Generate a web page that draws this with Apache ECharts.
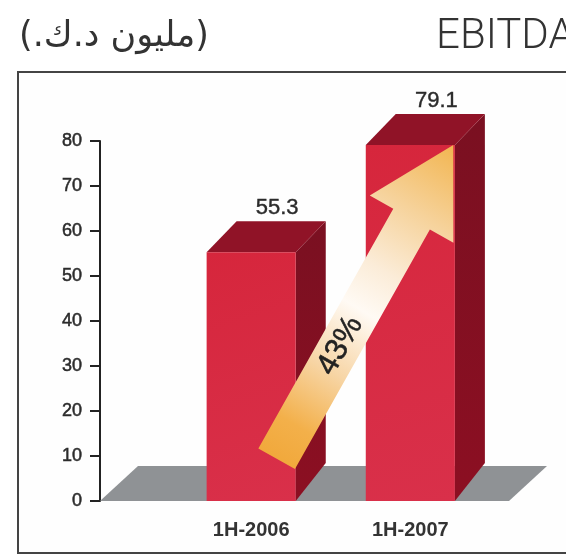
<!DOCTYPE html>
<html lang="en">
<head>
<meta charset="UTF-8">
<title>EBITDA</title>
<style>
html,body{margin:0;padding:0;background:#fff}
#chart{width:566px;height:554px}
</style>
</head>
<body>
<div id="chart"></div>
<script src="https://cdn.jsdelivr.net/npm/echarts@6/dist/echarts.min.js"></script>
<script>
var categories = ['1H-2006', '1H-2007'];
var barPositions = [1, 2];
var barValues = [55.3, 79.1];
var yTicks = [0, 10, 20, 30, 40, 50, 60, 70, 80];
var floorX = [0.05, 2.62];
// arrow runs from the foot of the first bar to the top of the second
var arrowTail = [1.16, 9.4];
var arrowTip = [2.27, 79.1];
var arrowLabel = '43%';
var titleLeft = 'EBITDA';
// the marks keep the parentheses and dots on the right-to-left side
var titleRight = '\u200F(مليون د.ك.)\u200F';

var myChart = echarts.init(document.getElementById('chart'));

function poly(points, fill) {
  return {type: 'polygon', shape: {points: points}, style: {fill: fill}};
}

// floor parallelogram behind the bars
function renderFloor(params, api) {
  var a = api.coord([api.value(0), 0]);
  var b = api.coord([api.value(1), 0]);
  return poly([a, [a[0] + 38, a[1] - 35], [b[0] + 38, b[1] - 35], b], '#8f9295');
}

// one 3d bar: front, top and side faces plus the value on top
function renderBar(params, api) {
  var x = api.value(0), v = api.value(1);
  var c0 = api.coord([x, 0]), c1 = api.coord([x, v]);
  var w = api.size([0.56, 0])[0];
  var l = c0[0] - w / 2, r = c0[0] + w / 2;
  var dx = 30, dy = -31;
  return {
    type: 'group',
    children: [
      poly([[r, c1[1]], [r + dx, c1[1] + dy], [r + dx, c0[1] - 38], [r, c0[1]]], new echarts.graphic.LinearGradient(0, 0, 0, 1, [
        {offset: 0, color: '#7a1021'},
        {offset: 1, color: '#8c0f22'}
      ])),
      poly([[l, c1[1]], [l + dx, c1[1] + dy], [r + dx, c1[1] + dy], [r, c1[1]]], '#901327'),
      poly([[l, c1[1]], [r, c1[1]], [r, c0[1]], [l, c0[1]]], new echarts.graphic.LinearGradient(0, 0, 1, 1, [
        {offset: 0, color: '#d6263c'},
        {offset: 1, color: '#d9304a'}
      ])),
      {
        type: 'text',
        x: (l + r) / 2 + 26,
        y: c1[1] + dy - 13,
        style: {
          text: String(v), align: 'center', verticalAlign: 'middle',
          font: '22px "Liberation Sans"', fill: '#2b2b2b',
          stroke: '#2b2b2b', lineWidth: 0.4
        }
      }
    ]
  };
}

function renderArrow(params, api) {
  var t = api.coord([api.value(0), api.value(1)]);
  var h = api.coord([api.value(2), api.value(3)]);
  var len = Math.hypot(h[0] - t[0], h[1] - t[1]);
  var ux = (h[0] - t[0]) / len, uy = (h[1] - t[1]) / len;
  var nx = -uy, ny = ux;
  function p(along, across) {
    return [t[0] + ux * along + nx * across, t[1] + uy * along + ny * across];
  }
  var shaft = 21, head = 48, neck = len - 85;
  var angle = Math.atan2(-uy, ux);
  var mid = p(len * 0.36, 0);
  return {
    type: 'group',
    children: [
      poly([p(0, shaft), p(neck, shaft), p(neck, head), p(len, 0), p(neck, -head), p(neck, -shaft), p(0, -shaft)],
        new echarts.graphic.LinearGradient(0, 1, 1, 0, [
          {offset: 0, color: '#f0a535'},
          {offset: 0.15, color: '#f3b04a'},
          {offset: 0.32, color: '#f7d5a5'},
          {offset: 0.5, color: '#fffaf4'},
          {offset: 0.62, color: '#fbecd8'},
          {offset: 0.8, color: '#f6d29a'},
          {offset: 1, color: '#f2b550'}
        ])),
      {
        type: 'text',
        x: mid[0],
        y: mid[1],
        rotation: angle,
        style: {
          text: arrowLabel, align: 'center', verticalAlign: 'middle',
          font: '31px "Liberation Sans"', fill: '#222',
          stroke: '#222', lineWidth: 0.5
        }
      }
    ]
  };
}

myChart.setOption({
  animation: false,
  backgroundColor: '#fff',
  title: [
    {text: titleLeft, left: 431, top: 11, textStyle: {fontFamily: 'Roboto', fontWeight: 300, fontSize: 42, color: '#333'}},
    {text: titleRight, left: 14, top: 14, textStyle: {fontFamily: 'DejaVu Sans', fontWeight: 'normal', fontSize: 35, color: '#333'}}
  ],
  graphic: [{
    type: 'rect', left: 17, top: 71, z: -1,
    shape: {width: 620, height: 481},
    style: {fill: '#fefefe', stroke: '#444', lineWidth: 2}
  }],
  grid: {left: 100, top: 141, width: 409, height: 360},
  xAxis: {
    type: 'value',
    min: floorX[0],
    max: floorX[1],
    splitLine: {show: false},
    axisLine: {show: false},
    axisTick: {show: false},
    axisLabel: {
      customValues: barPositions,
      margin: 19,
      fontFamily: 'Liberation Sans',
      fontWeight: 'bold',
      fontSize: 20,
      color: '#333',
      formatter: function (val) { return categories[val - 1]; }
    }
  },
  yAxis: {
    type: 'value',
    min: yTicks[0],
    max: yTicks[yTicks.length - 1],
    interval: 10,
    splitLine: {show: false},
    axisLine: {show: true, lineStyle: {color: '#222', width: 2}},
    axisTick: {show: true, length: 10, lineStyle: {color: '#222', width: 2}},
    axisLabel: {margin: 18, fontFamily: 'Liberation Sans', fontSize: 18, color: '#2b2b2b', textBorderColor: '#2b2b2b', textBorderWidth: 0.5}
  },
  series: [
    {type: 'custom', z: 1, renderItem: renderFloor, data: [floorX], silent: true},
    {type: 'custom', z: 2, renderItem: renderBar, encode: {x: 0, y: 1},
      data: barPositions.map(function (x, i) { return [x, barValues[i]]; })},
    {type: 'custom', z: 3, renderItem: renderArrow, data: [[arrowTail[0], arrowTail[1], arrowTip[0], arrowTip[1]]], silent: true}
  ]
});
</script>
</body>
</html>
